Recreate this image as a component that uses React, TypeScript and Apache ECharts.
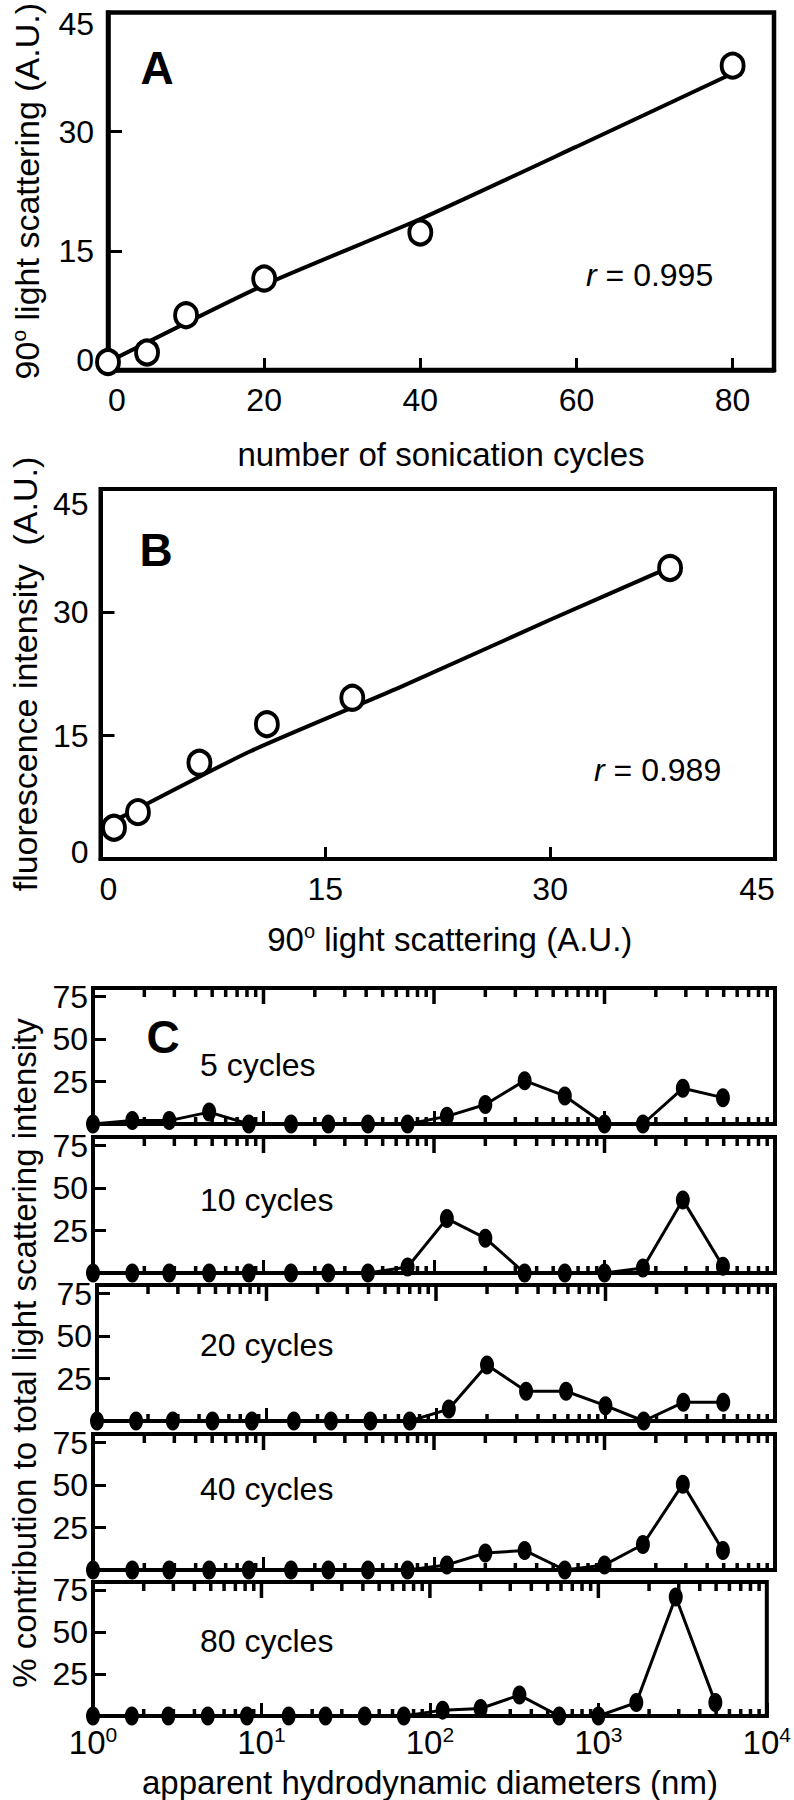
import React, { useEffect, useRef } from 'react';
import * as echarts from 'echarts';

const FONT = '"Liberation Sans", Arial, Helvetica, sans-serif';
const TICK_COLOR = '#000';
const CTICK_COLOR = '#000';

// ---------- Panel A ----------
const cycles = [0, 5, 10, 20, 40, 80];
const scatterA = [1.0, 2.2, 6.9, 11.5, 17.3, 38.3];
const fitAx = [0, 20, 40, 60, 79.3];
const fitAy = [1.0, 10.7, 19.0, 28.1, 37.0];
const ticksAx = [0, 20, 40, 60, 80];
const rA = '0.995';

// ---------- Panel B ----------
const scatterBx = [0.9, 2.5, 6.6, 11.1, 16.8, 38.0];
const scatterBy = [3.8, 5.7, 11.7, 16.4, 19.6, 35.4];
const fitBx = [1.3, 10, 20, 30, 38];
const fitBy = [5.0, 13.1, 20.9, 29.1, 35.5];
const rB = '0.989';

// ---------- Panel C ----------
const diameters = [1, 1.7, 2.8, 4.8, 8.2, 14.5, 24, 41, 70, 119, 200, 340, 585, 1000, 1680, 2880, 4950];
const cycleLabels = ['5 cycles', '10 cycles', '20 cycles', '40 cycles', '80 cycles'];
const dist5 = [0, 2, 2, 7, 0, 0, 0, 0, 0, 4.5, 11.5, 25.5, 16.5, 0, 0, 21, 15.5];
const dist10 = [0, 0, 0, 0, 0, 0, 0, 0, 3.5, 32, 20.5, 0, 0, 0, 3, 43, 4];
const dist20 = [0, 0, 0, 0, 0, 0, 0, 0, 0, 7, 33, 17.5, 17.5, 9, 0, 11, 11];
const dist40 = [0, 0, 0, 0, 0, 0, 0, 0, 0, 3, 10, 11.5, 0, 3, 15, 50.5, 11.5];
const dist80 = [0, 0, 0, 0, 0, 0, 0, 0, 0, 3.5, 4.5, 12.5, 0, 0, 8, 71, 8];
const distributions = [dist5, dist10, dist20, dist40, dist80];
const ticksCy = [25, 50, 75];
const majorTickValues = [10, 100, 1000];
const minorTickValues = [
  2, 3, 4, 5, 6, 7, 8, 9,
  20, 30, 40, 50, 60, 70, 80, 90,
  200, 300, 400, 500, 600, 700, 800, 900,
  2000, 3000, 4000, 5000, 6000, 7000, 8000, 9000,
];

const cTops = [988, 1137, 1285, 1434, 1582];
const cHeight = 136;
const cYMax = 80;

function buildOption() {
  const black = '#000';
  const grids: any[] = [
    { left: 98, top: 5, width: 676, height: 365, show: true, borderColor: black, borderWidth: 4.5 },
    { left: 95, top: 489, width: 680, height: 370, show: true, borderColor: black, borderWidth: 4 },
  ];
  cTops.forEach((t) => {
    grids.push({ left: 93, top: t, width: 682, height: cHeight, show: true, borderColor: black, borderWidth: 4 });
  });

  const labelBase = { color: black, fontFamily: FONT };
  const line = (w: number) => ({ show: true, onZero: false, lineStyle: { color: black, width: w } });
  const sup = (size: number) => ({
    a: { fontSize: size, fontFamily: FONT, color: black, lineHeight: size + 4 },
    s: { fontSize: Math.round(size * 0.62), fontFamily: FONT, color: black, verticalAlign: 'top', lineHeight: Math.round(size * 0.62) },
  });
  const tok = (padding: number[]) => ({ fontSize: 32, fontFamily: FONT, color: black, padding });

  const xAxes: any[] = [
    {
      gridIndex: 0, type: 'value', min: 0, max: 85.3,
      axisLine: line(4.5), splitLine: { show: false },
      axisTick: { show: true, inside: true, length: 12, customValues: ticksAx, lineStyle: { color: TICK_COLOR, width: 3 } },
      axisLabel: {
        ...labelBase, fontSize: 32, margin: 14, customValues: ticksAx,
        formatter: (v: number) => (v === 0 ? '{l|0}' : String(v)),
        rich: { l: tok([0, 0, 0, 18]) },
      },
      name: 'number of sonication cycles', nameLocation: 'middle', nameGap: 68,
      nameTextStyle: { fontSize: 33, fontFamily: FONT, color: black },
    },
    {
      gridIndex: 1, type: 'value', min: 0, max: 45, interval: 15,
      axisLine: line(4), splitLine: { show: false },
      axisTick: { show: true, inside: true, length: 12, lineStyle: { color: TICK_COLOR, width: 3 } },
      axisLabel: {
        ...labelBase, fontSize: 32, margin: 14,
        formatter: (v: number) => (v === 0 ? '{l|0}' : v === 45 ? '{r|45}' : String(v)),
        rich: { l: tok([0, 0, 0, 16]), r: tok([0, 36, 0, 0]) },
      },
      name: '{a|90}{s|o}{a| light scattering (A.U.)}', nameLocation: 'middle', nameGap: 62,
      nameTextStyle: { fontSize: 33, fontFamily: FONT, color: black, padding: [0, 0, 0, 24], rich: sup(33) },
    },
  ];
  const yAxes: any[] = [
    {
      gridIndex: 0, type: 'value', min: 0, max: 45, interval: 15,
      axisLine: line(4.5), splitLine: { show: false },
      axisTick: { show: true, inside: true, length: 14, lineStyle: { color: TICK_COLOR, width: 3 } },
      axisLabel: {
        ...labelBase, fontSize: 32, margin: 14,
        formatter: (v: number) => (v === 45 ? '{t|45}' : v === 0 ? '{b|0}' : String(v)),
        rich: { t: tok([24, 0, 0, 0]), b: tok([0, 0, 20, 0]) },
      },
      name: '{a|90}{s|o}{a| light scattering (A.U.)}', nameLocation: 'middle', nameGap: 62,
      nameTextStyle: { fontSize: 34, fontFamily: FONT, color: black, rich: sup(34) },
    },
    {
      gridIndex: 1, type: 'value', min: 0, max: 45, interval: 15,
      axisLine: line(4), splitLine: { show: false },
      axisTick: { show: true, inside: true, length: 14, lineStyle: { color: TICK_COLOR, width: 3 } },
      axisLabel: {
        ...labelBase, fontSize: 32, margin: 12,
        formatter: (v: number) => (v === 45 ? '{t|45}' : v === 0 ? '{b|0}' : String(v)),
        rich: { t: tok([30, 0, 0, 0]), b: tok([0, 0, 14, 0]) },
      },
      name: 'fluorescence intensity  (A.U.)', nameLocation: 'middle', nameGap: 56,
      nameTextStyle: { fontSize: 34, fontFamily: FONT, color: black },
    },
  ];

  const series: any[] = [
    {
      type: 'line', xAxisIndex: 0, yAxisIndex: 0, data: fitAx.map((x, i) => [x, fitAy[i]]),
      showSymbol: false, smooth: 0.2, lineStyle: { color: black, width: 4 }, z: 2,
    },
    {
      type: 'scatter', xAxisIndex: 0, yAxisIndex: 0, data: cycles.map((c, i) => [c, scatterA[i]]),
      symbol: 'circle', symbolSize: [22, 24], itemStyle: { color: '#fff', borderColor: black, borderWidth: 4, opacity: 1 }, z: 3,
    },
    {
      type: 'line', xAxisIndex: 1, yAxisIndex: 1, data: fitBx.map((x, i) => [x, fitBy[i]]),
      showSymbol: false, smooth: 0.2, lineStyle: { color: black, width: 4 }, z: 2,
    },
    {
      type: 'scatter', xAxisIndex: 1, yAxisIndex: 1, data: scatterBx.map((x, i) => [x, scatterBy[i]]),
      symbol: 'circle', symbolSize: [22, 24], itemStyle: { color: '#fff', borderColor: black, borderWidth: 4, opacity: 1 }, z: 3,
    },
  ];

  const tickItems: number[][] = [
    ...minorTickValues.map((v) => [v, 0]),
    ...majorTickValues.map((v) => [v, 1]),
    ...minorTickValues.map((v) => [v, 2]),
  ];
  const tickLen = [9, 16, 7];

  distributions.forEach((dist, i) => {
    const g = 2 + i;
    const isLast = i === distributions.length - 1;
    xAxes.push({
      gridIndex: g, type: 'log', logBase: 10, min: 1, max: 10000,
      axisLine: line(4), splitLine: { show: false },
      axisTick: { show: true, inside: true, length: 13, lineStyle: { color: TICK_COLOR, width: 3 } },
      axisLabel: isLast
        ? {
            show: true, margin: 8, color: black, fontFamily: FONT, fontSize: 33,
            formatter: (v: number) => `{b|10}{e|${Math.round(Math.log10(v))}}`,
            rich: {
              b: { fontSize: 33, fontFamily: FONT, color: black, lineHeight: 36 },
              e: { fontSize: 21, fontFamily: FONT, color: black, verticalAlign: 'top', lineHeight: 21 },
            },
          }
        : { show: false },
      ...(isLast
        ? {
            name: 'apparent hydrodynamic diameters (nm)', nameLocation: 'middle', nameGap: 50,
            nameTextStyle: { fontSize: 33, fontFamily: FONT, color: black },
          }
        : {}),
    });

    yAxes.push({
      gridIndex: g, type: 'value', min: 0, max: cYMax,
      axisLine: line(4), splitLine: { show: false },
      axisTick: { show: true, inside: true, length: 13, customValues: ticksCy, lineStyle: { color: TICK_COLOR, width: 3 } },
      axisLabel: { ...labelBase, fontSize: 32, margin: 5, customValues: ticksCy },
      ...(i === 2
        ? {
            name: '% contribution to total light scattering intensity', nameLocation: 'middle', nameGap: 56,
            nameTextStyle: { fontSize: 33, fontFamily: FONT, color: black },
          }
        : {}),
    });

    series.push({
      type: 'custom', coordinateSystem: 'cartesian2d', xAxisIndex: g, yAxisIndex: g,
      data: tickItems,
      renderItem: (_params: any, api: any) => {
        const v = api.value(0);
        const kind = api.value(1);
        const top = api.coord([v, cYMax]);
        const bot = api.coord([v, 0]);
        const len = tickLen[kind];
        const y1 = kind === 2 ? bot[1] : top[1];
        const y2 = kind === 2 ? bot[1] - len : top[1] + len;
        return {
          type: 'line',
          shape: { x1: top[0], y1, x2: top[0], y2 },
          style: { stroke: CTICK_COLOR, lineWidth: 3.5 },
        };
      },
    });

    series.push({
      type: 'line', xAxisIndex: g, yAxisIndex: g,
      data: diameters.map((d, k) => [d, dist[k]]),
      symbol: 'circle', symbolSize: [14, 19], showSymbol: true,
      lineStyle: { color: black, width: 3 }, itemStyle: { color: black }, z: 3,
    });
  });

  const txt = (text: string, x: number, y: number, size: number, weight = 'normal', align = 'left', rich?: any) => ({
    type: 'text', x, y, z: 10,
    style: {
      text, fill: black, fontSize: size, fontFamily: FONT, fontWeight: weight,
      align, verticalAlign: 'middle', rich,
    },
  });
  const rRich = { i: { fontStyle: 'italic', fontSize: 32, fontFamily: FONT, fill: black } };

  const graphics: any[] = [
    txt('A', 157, 68, 46, 'bold', 'center'),
    txt('B', 156, 550, 46, 'bold', 'center'),
    txt('C', 163, 1037, 46, 'bold', 'center'),
    txt(`{i|r} = ${rA}`, 586, 275, 32, 'normal', 'left', rRich),
    txt(`{i|r} = ${rB}`, 594, 770, 32, 'normal', 'left', rRich),
  ];
  const cycleLabelY = [1065, 1200, 1345, 1489, 1641];
  cycleLabels.forEach((l, i) => graphics.push(txt(l, 200, cycleLabelY[i], 32)));

  return {
    animation: false,
    backgroundColor: '#fff',
    textStyle: { fontFamily: FONT, color: black },
    grid: grids,
    xAxis: xAxes,
    yAxis: yAxes,
    series,
    graphic: graphics,
  };
}

export default function App() {
  const ref = useRef<HTMLDivElement>(null);
  useEffect(() => {
    if (!ref.current) return;
    const chart = echarts.init(ref.current, null, { renderer: 'svg', width: 794, height: 1800 });
    chart.setOption(buildOption() as any);
    return () => chart.dispose();
  }, []);
  return (
    <div
      ref={ref}
      style={{ position: 'absolute', left: 0, top: 0, width: 794, height: 1800, background: '#fff' }}
    />
  );
}
